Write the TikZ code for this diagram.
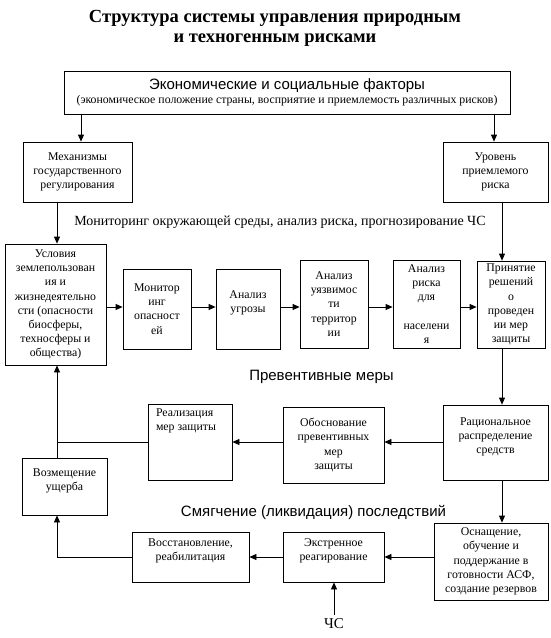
\documentclass[tikz,border=0pt]{standalone}
\usepackage{fontspec}
\setmainfont{Liberation Serif}
\setsansfont{Liberation Sans}
\usetikzlibrary{arrows.meta}
\tikzset{
  blk/.style={draw, align=center, inner sep=1pt, font=\fontsize{11.8}{14.2}\selectfont},
  lbl/.style={font=\fontsize{14}{16}\selectfont},
  slbl/.style={font=\sffamily\fontsize{15}{17}\selectfont},
}
\begin{document}
\begin{tikzpicture}[x=1pt, y=-1pt, line width=0.8pt, >={Triangle[length=7pt,width=6pt]}]
\useasboundingbox (0,0) rectangle (550,638);
% heading
\node[align=center, font=\bfseries\fontsize{18.5}{20}\selectfont] (title) at (275,28.5)
  {Структура системы управления природным\\и техногенным рисками};
% upper part
\node[blk, minimum width=446, minimum height=43] (econ) at (287,92.5)
  {{\sffamily\fontsize{15}{15.5}\selectfont Экономические и социальные факторы}\\
   {\fontsize{11.8}{13}\selectfont (экономическое положение страны, восприятие и приемлемость различных рисков)}};
\node[blk, minimum width=109, minimum height=60] (mech) at (77.5,172) {Механизмы\\государственного\\регулирования};
\node[blk, minimum width=105, minimum height=60] (level) at (495.5,172) {Уровень\\приемлемого\\риска};
\node[lbl] (monlbl) at (280,222) {Мониторинг окружающей среды, анализ риска, прогнозирование ЧС};
% analysis row
\node[blk, minimum width=101, minimum height=121] (cond) at (55.5,304.5)
  {Условия\\землепользован\\ия и\\жизнедеятельно\\сти (опасности\\биосферы,\\техносферы и\\общества)};
\node[blk, minimum width=68, minimum height=80] (monit) at (157,309) {Монитор\\инг\\опасност\\ей};
\node[blk, minimum width=64, minimum height=80] (threat) at (248,309) {Анализ\\угрозы\\ \mbox{}};
\node[blk, minimum width=68, minimum height=88] (vuln) at (334,304) {Анализ\\уязвимос\\ти\\территор\\ии};
\node[blk, minimum width=67, minimum height=88] (riskan) at (426.5,304) {Анализ\\риска\\для\\ \mbox{}\\населени\\я};
\node[blk, minimum width=68, minimum height=87] (decide) at (511,304.5) {Принятие\\решений\\о\\проведен\\ии мер\\защиты};
% preventive measures
\node[slbl] (prevlbl) at (321.5,377) {Превентивные меры};
\node[blk, minimum width=105, minimum height=75] (ration) at (495.5,442.5) {Рациональное\\распределение\\средств\\ \mbox{}};
\node[blk, minimum width=101, minimum height=76] (obosn) at (333.5,445) {Обоснование\\превентивных\\мер\\защиты};
\node[draw, minimum width=84, minimum height=76] (realiz) at (190,442) {};
\node[anchor=north west, align=left, inner sep=0pt, font=\fontsize{11.8}{14.2}\selectfont] (realtxt)
  at ([shift={(8,5)}]realiz.north west) {Реализация\\мер защиты};
\node[blk, minimum width=85, minimum height=57] (vozm) at (64.5,486.5) {Возмещение\\ущерба\\ \mbox{}};
% mitigation
\node[slbl] (mitlbl) at (313.5,512) {Смягчение (ликвидация) последствий};
\node[blk, minimum width=114, minimum height=77] (osn) at (491,561.5)
  {Оснащение,\\обучение и\\поддержание в\\готовности АСФ,\\создание резервов};
\node[blk, minimum width=101, minimum height=50] (extr) at (333.5,557) {Экстренное\\реагирование\\ \mbox{}};
\node[blk, minimum width=117, minimum height=50] (vosst) at (190.5,557) {Восстановление,\\реабилитация\\ \mbox{}};
\node[lbl, font=\fontsize{15}{17}\selectfont] (chs) at (334,624) {ЧС};
% guide lines
\coordinate (lx) at (81,0);
\coordinate (rx) at (494,0);
\coordinate (vx) at (502,0);
\coordinate (jx) at (57,0);
\coordinate (ry) at (0,307);
% connectors
\draw[->] (econ.south -| lx) -- (mech.north -| lx);
\draw[->] (econ.south -| rx) -- (level.north -| rx);
\draw[->] (mech.south -| jx) -- (cond.north -| jx);
\draw[->] (level.south -| vx) -- (decide.north -| vx);
\draw[->] (cond.east |- ry) -- (monit.west |- ry);
\draw[->] (monit.east |- ry) -- (threat.west |- ry);
\draw[->] (threat.east |- ry) -- (vuln.west |- ry);
\draw[->] (vuln.east |- ry) -- (riskan.west |- ry);
\draw[->] (riskan.east |- ry) -- (decide.west |- ry);
\draw[->] (decide.south -| vx) -- (ration.north -| vx);
\draw[->] (ration.west |- realiz) -- (obosn.east |- realiz);
\draw[->] (obosn.west |- realiz) -- (realiz.east);
\draw (realiz.west) -- (realiz.west -| jx);
\draw[->] (vozm.north -| jx) -- (cond.south -| jx);
\draw[->] (ration.south -| vx) -- (osn.north -| vx);
\draw[->] (osn.west |- extr) -- (extr.east);
\draw[->] (extr.west) -- (vosst.east);
\draw[->] (vosst.west) -| (vozm.south -| jx);
\draw[->] (chs.north) -- (extr.south -| chs);
\end{tikzpicture}
\end{document}
